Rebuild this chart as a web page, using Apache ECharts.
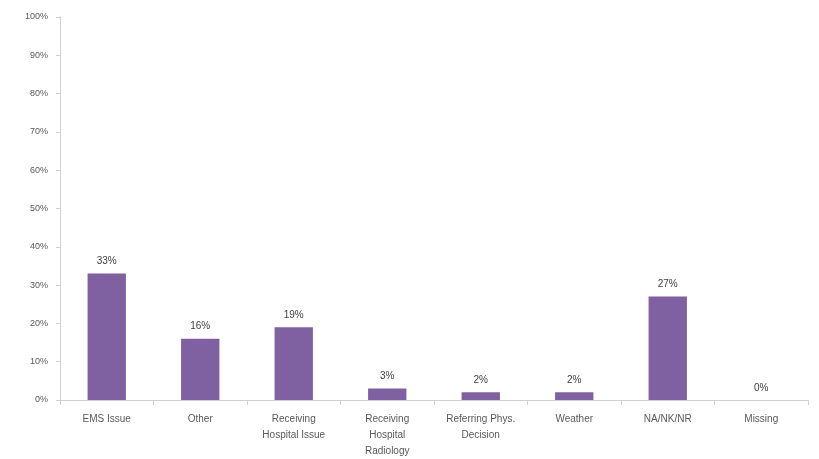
<!DOCTYPE html>
<html>
<head>
<meta charset="utf-8">
<script src="https://cdn.jsdelivr.net/npm/echarts@6/dist/echarts.min.js"></script>
<style>html,body{margin:0;padding:0;background:#fff}#c{width:819px;height:459px}</style>
</head>
<body>
<div id="c"></div>
<script>
const categories = ["EMS Issue", "Other", "Receiving\nHospital Issue", "Receiving\nHospital\nRadiology", "Referring Phys.\nDecision", "Weather", "NA/NK/NR", "Missing"];
const values = [33, 16, 19, 3, 2, 2, 27, 0];
const yTicks = { min: 0, max: 100, interval: 10 };

const chart = echarts.init(document.getElementById('c'), null, { renderer: 'canvas' });
chart.setOption({
  animation: false,
  backgroundColor: '#ffffff',
  grid: { left: 60, right: 11, top: 17, bottom: 52, containLabel: false },
  xAxis: {
    type: 'category',
    data: categories,
    boundaryGap: true,
    axisLine: { show: true, lineStyle: { color: '#d0d0d0', width: 1 } },
    axisTick: { show: true, length: 5, lineStyle: { color: '#d0d0d0' }, alignWithLabel: false },
    axisLabel: { interval: 0, color: '#595959', fontFamily: 'Liberation Sans, Arial, sans-serif', fontSize: 10, margin: 11, lineHeight: 16 }
  },
  yAxis: {
    type: 'value',
    min: yTicks.min, max: yTicks.max, interval: yTicks.interval,
    splitLine: { show: false },
    axisLine: { show: true, lineStyle: { color: '#d0d0d0', width: 1 } },
    axisTick: { show: true, length: 4, inside: false, lineStyle: { color: '#d0d0d0' } },
    axisLabel: { formatter: '{value}%', color: '#595959', fontFamily: 'Liberation Sans, Arial, sans-serif', fontSize: 9, margin: 12 }
  },
  series: [{
    type: 'bar',
    data: values,
    barWidth: '41%',
    itemStyle: { color: '#7f60a0' },
    label: { show: true, position: 'top', distance: 7, formatter: '{c}%', color: '#404040', fontFamily: 'Liberation Sans, Arial, sans-serif', fontSize: 10 }
  }]
});
</script>
</body>
</html>
